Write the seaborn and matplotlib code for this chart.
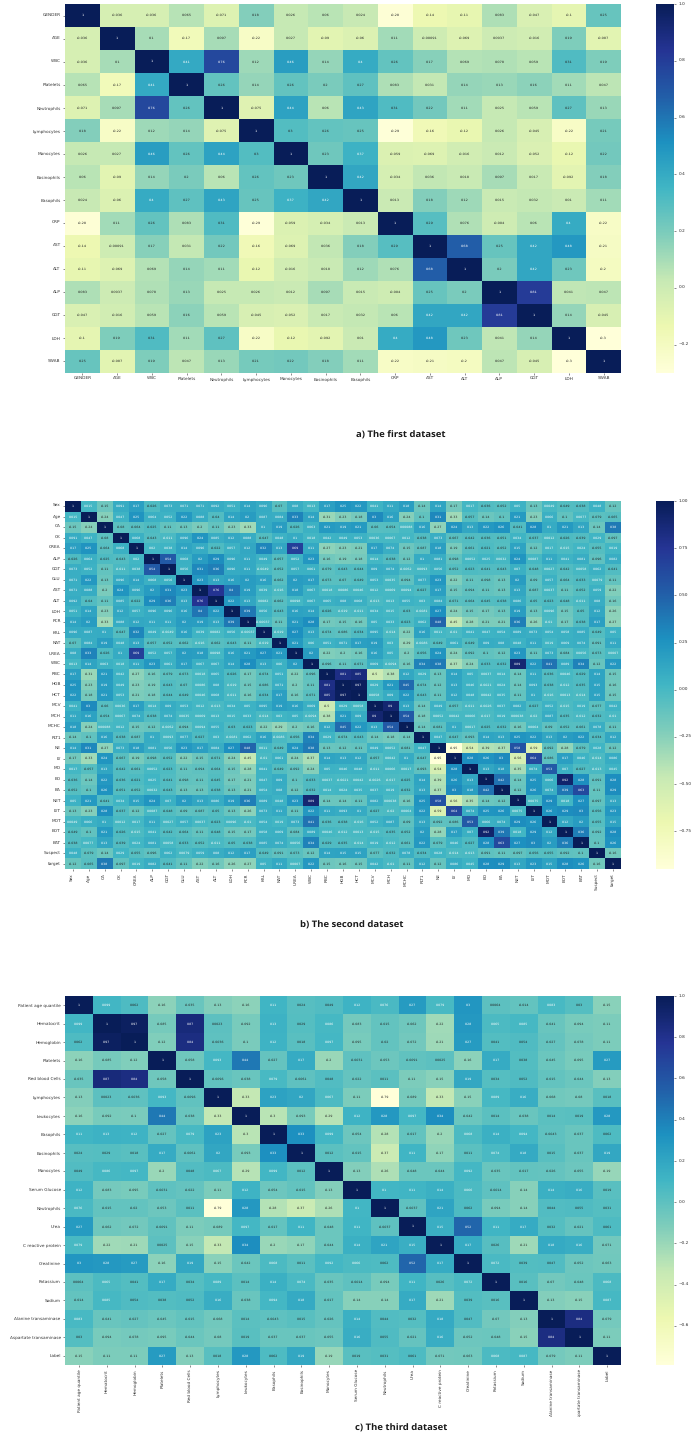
import numpy as np
import pandas as pd
import matplotlib
matplotlib.use("Agg")
import matplotlib.pyplot as plt
from matplotlib.patches import Rectangle
from matplotlib.ticker import FuncFormatter
import seaborn as sns

labels_a = ["GENDER","AGE","WBC","Platelets","Neutrophils","Lymphocytes","Monocytes","Eosinophils","Basophils","CRP","AST","ALT","ALP","GGT","LDH","SWAB"]
upper_a = [
[1,-0.036,-0.036,0.065,-0.071,0.18,0.026,0.06,0.024,-0.28,-0.14,-0.11,0.083,-0.047,-0.1,0.25],
[1,0.1,-0.17,0.097,-0.22,0.027,-0.09,-0.06,0.11,-0.00091,-0.069,0.0037,-0.016,0.19,-0.087],
[1,0.41,0.76,0.12,0.46,0.14,0.4,0.26,0.17,0.069,0.078,0.059,0.31,0.19],
[1,0.26,0.14,0.26,0.2,0.27,0.083,0.031,0.14,0.13,0.16,0.11,0.047],
[1,-0.075,0.44,0.06,0.43,0.31,0.22,0.11,0.025,0.059,0.27,0.13],
[1,0.3,0.26,0.25,-0.29,-0.16,-0.12,0.026,-0.045,-0.22,0.21],
[1,0.23,0.37,-0.059,-0.069,-0.016,0.012,-0.052,-0.12,0.22],
[1,0.42,-0.034,0.036,0.018,0.097,0.017,-0.092,0.18],
[1,0.013,0.18,0.12,0.015,0.032,0.01,0.11],
[1,0.29,0.076,-0.004,0.06,0.4,-0.22],
[1,0.68,0.25,0.42,0.48,-0.21],
[1,0.2,0.42,0.23,-0.2],
[1,0.81,0.041,0.047],
[1,0.14,-0.045],
[1,-0.3],
[1],
]

labels_b = ["Sex","Age","CA","CK","CREA","ALP","GGT","GLU","AST","ALT","LDH","PCR","KAL","NAT","UREA","WBC","RBC","HGB","HCT","MCV","MCH","MCHC","PLT1","NE","LY","MO","EO","BA","NET","LYT","MOT","EOT","BAT","Suspect","target"]
upper_b = [
[1,0.015,-0.15,0.091,0.17,-0.026,0.073,0.071,0.071,0.092,0.051,0.14,0.096,-0.07,0.08,0.013,0.17,0.25,0.22,0.041,0.11,0.18,-0.14,0.14,-0.17,0.017,-0.036,-0.052,0.05,-0.13,0.0049,-0.049,-0.038,0.048,-0.12],
[1,-0.24,0.047,0.25,0.064,0.052,0.22,0.088,-0.04,0.14,0.2,0.087,0.084,0.33,0.14,-0.31,-0.23,-0.18,0.3,0.16,-0.24,-0.1,0.31,-0.33,-0.057,-0.14,-0.1,0.21,-0.23,0.066,-0.1,0.0077,-0.079,-0.065],
[1,-0.08,-0.064,-0.025,-0.11,-0.13,-0.2,-0.11,-0.23,-0.33,0.1,0.19,-0.026,0.063,0.21,0.19,0.21,-0.06,-0.054,0.00088,0.16,-0.27,0.24,0.13,0.22,0.26,-0.041,0.28,0.1,0.21,0.13,-0.14,0.38],
[1,0.068,-0.043,-0.011,0.096,0.24,0.085,0.12,0.088,-0.047,0.048,0.1,0.018,0.042,0.049,0.053,0.0036,0.0067,0.012,-0.038,0.073,-0.067,-0.042,-0.036,-0.051,0.034,-0.037,0.0012,-0.026,-0.039,0.029,-0.097],
[1,0.02,0.038,0.14,0.096,-0.022,0.057,0.12,0.32,0.13,0.69,0.11,-0.27,-0.23,-0.21,0.17,0.074,-0.15,-0.087,0.18,-0.19,-0.061,-0.021,-0.052,0.15,-0.12,0.017,-0.015,0.024,-0.055,0.019],
[1,0.54,0.068,0.2,0.29,0.096,0.11,0.049,-0.057,0.052,0.23,-0.16,-0.19,-0.18,0.014,-0.038,-0.12,0.1,0.081,-0.098,0.0052,0.025,0.0032,0.24,0.0087,0.11,0.041,0.081,-0.096,0.082],
[1,0.056,0.31,0.36,0.096,0.11,-0.0049,-0.052,0.057,0.061,-0.079,-0.043,-0.044,0.09,0.074,-0.0062,0.0093,0.056,-0.052,-0.023,-0.041,-0.043,0.07,-0.048,0.0027,-0.042,0.0058,0.062,-0.041],
[1,0.23,0.13,0.16,0.2,0.16,-0.062,0.2,0.17,-0.073,-0.07,-0.049,0.053,0.0035,-0.094,0.077,0.23,-0.22,-0.11,-0.098,-0.13,0.2,-0.09,0.057,-0.064,-0.033,0.0079,-0.11],
[1,0.76,0.4,0.19,0.039,-0.016,0.18,0.067,0.0018,0.0086,0.0046,0.012,0.0069,0.0094,-0.027,0.17,-0.15,-0.094,-0.11,-0.13,0.13,-0.087,0.0037,-0.11,-0.052,0.059,-0.22],
[1,0.22,0.13,0.0082,-0.062,0.0098,0.067,0.065,0.08,0.068,-0.013,0.013,0.055,0.03,0.084,-0.071,-0.064,-0.045,-0.038,0.086,-0.05,-0.023,-0.048,-0.011,0.08,-0.16],
[1,0.39,0.056,-0.043,0.16,0.14,-0.026,-0.019,-0.011,0.034,0.015,-0.03,-0.0081,0.27,-0.24,-0.15,-0.17,-0.13,0.19,-0.13,0.0096,-0.15,-0.05,0.12,-0.26],
[1,-0.00037,-0.11,0.21,0.28,-0.17,-0.15,-0.16,0.05,0.033,-0.023,0.062,0.48,-0.45,-0.28,-0.21,-0.21,0.36,-0.26,-0.01,-0.17,-0.038,0.17,-0.27],
[1,-0.019,0.27,0.13,-0.074,-0.086,-0.034,0.095,-0.014,-0.22,0.16,0.011,-0.01,0.041,0.047,0.054,0.089,0.073,0.054,0.058,0.085,-0.049,0.05],
[1,0.21,0.06,0.051,0.071,0.17,0.19,0.03,-0.29,-0.0086,-0.049,0.061,-0.049,0.09,0.08,0.048,0.11,0.019,0.069,0.074,-0.091,0.11],
[1,0.2,-0.22,-0.2,-0.16,0.16,0.05,-0.2,-0.056,0.24,-0.24,-0.092,-0.1,-0.12,0.23,-0.11,0.073,-0.084,0.0056,-0.073,0.0007],
[1,-0.096,-0.11,-0.071,0.069,-0.0094,-0.16,0.34,0.38,-0.37,-0.24,-0.033,-0.032,0.89,0.22,0.41,0.089,0.34,-0.12,0.22],
[1,0.81,0.85,-0.5,-0.38,0.12,0.029,-0.13,0.14,0.05,0.0037,0.014,-0.14,0.11,-0.036,0.0046,-0.029,0.14,-0.15],
[1,0.97,0.029,0.21,0.45,-0.074,-0.12,0.13,0.046,-0.0021,0.024,-0.14,0.093,-0.038,-0.012,-0.035,0.15,-0.16],
[1,0.0058,0.09,0.22,-0.043,-0.11,0.12,0.048,0.0042,0.035,-0.11,0.1,-0.016,0.0013,-0.014,0.15,-0.15],
[1,0.9,0.13,-0.14,0.049,-0.057,-0.011,-0.0026,0.037,0.082,-0.027,0.052,-0.015,0.019,-0.077,0.042],
[1,0.54,-0.18,0.0052,0.0042,0.0066,-0.017,0.019,0.00038,-0.02,0.087,-0.035,-0.012,-0.032,-0.01],
[1,-0.14,-0.081,0.1,0.0017,-0.025,-0.032,-0.16,0.0064,-0.09,-0.052,-0.061,0.078,-0.11],
[1,0.047,-0.047,-0.093,0.14,0.13,0.25,0.22,0.13,0.2,0.22,-0.034,0.12],
[1,-0.95,-0.54,-0.39,-0.37,0.58,-0.59,-0.092,-0.28,-0.079,0.028,-0.12],
[1,0.28,0.26,0.3,-0.56,0.64,-0.086,0.17,0.046,-0.014,0.086],
[1,0.13,0.18,-0.35,0.074,0.53,0.07,-0.027,-0.013,0.045],
[1,0.42,-0.14,0.25,0.066,0.92,0.28,-0.091,0.28],
[1,-0.12,0.26,0.074,0.39,0.63,-0.11,0.29],
[1,0.0075,0.29,0.018,0.27,-0.097,0.13],
[1,0.26,0.29,0.3,-0.056,0.23],
[1,0.12,0.2,-0.055,0.15],
[1,0.36,-0.092,0.28],
[1,-0.1,0.26],
[1,-0.16],
[1],
]

labels_c = ["Patient age quantile","Hematocrit","Hemoglobin","Platelets","Red blood Cells","Lymphocytes","Leukocytes","Basophils","Eosinophils","Monocytes","Serum Glucose","Neutrophils","Urea","C reactive protein","Creatinine","Potassium","Sodium","Alanine transaminase","Aspartate transaminase","Label"]
upper_c = [
[1,0.099,0.062,-0.16,-0.035,-0.13,-0.16,0.11,0.024,0.049,0.12,0.076,0.27,0.079,0.3,0.0064,-0.014,0.083,0.03,-0.15],
[1,0.97,-0.085,0.87,0.0023,-0.092,0.13,0.029,0.086,-0.083,-0.015,-0.062,-0.22,0.28,0.065,0.085,-0.041,-0.094,-0.11],
[1,-0.12,0.84,-0.0036,-0.1,0.12,0.018,0.097,-0.095,-0.02,-0.072,-0.21,0.27,0.041,0.054,-0.027,-0.078,-0.11],
[1,-0.058,0.093,0.44,-0.027,0.17,-0.2,-0.0031,-0.053,-0.0091,0.0025,-0.16,0.17,0.038,-0.045,-0.095,0.27],
[1,-0.0096,-0.038,0.079,-0.0061,0.048,-0.022,0.011,-0.11,-0.15,0.19,0.034,0.052,-0.015,-0.044,-0.13],
[1,-0.33,0.23,0.2,0.067,-0.11,-0.79,-0.089,-0.33,-0.15,0.089,0.16,-0.068,-0.08,0.018],
[1,-0.3,-0.093,-0.29,0.12,0.28,0.097,0.34,-0.042,0.014,-0.038,0.014,0.019,0.28],
[1,0.33,0.099,-0.054,-0.28,-0.017,-0.2,0.068,0.14,0.094,-0.0043,-0.037,0.062],
[1,0.012,-0.015,-0.37,0.11,-0.17,0.011,0.074,0.18,0.015,-0.037,0.19],
[1,-0.13,-0.26,-0.048,-0.044,0.092,-0.035,-0.017,-0.026,-0.055,-0.19],
[1,0.1,0.11,0.14,0.066,-0.0014,-0.14,0.14,0.16,0.019],
[1,-0.0037,0.21,0.062,-0.094,-0.14,0.044,0.055,0.031],
[1,0.15,0.52,0.11,0.17,0.032,-0.021,0.061],
[1,0.17,0.026,-0.21,0.18,0.16,-0.071],
[1,0.072,0.039,0.047,-0.052,-0.063],
[1,0.016,-0.07,-0.048,0.068],
[1,-0.13,-0.15,0.087],
[1,0.84,-0.079],
[1,-0.11],
[1],
]

captions = ["a) The first dataset", "b) The second dataset", "c) The third dataset"]

W, H = 698, 1441


def corr_frame(upper, labels):
    n = len(labels)
    m = np.zeros((n, n))
    for i, row in enumerate(upper):
        if len(row) != n - i:
            raise ValueError(f"row {i} ({labels[i]}) has {len(row)} values, expected {n-i}")
        m[i, i:] = row
        m[i:, i] = row
    return pd.DataFrame(m, index=labels, columns=labels)


def box(x0, y0, x1, y1):
    return [x0 / W, 1 - y1 / H, (x1 - x0) / W, (y1 - y0) / H]


def tick_formatter(decimals):
    return FuncFormatter(lambda v, _: f"{v:.{decimals}f}".replace("-", "\u2212"))


sns.set_theme(style="white")
plt.rcParams["font.family"] = ["DejaVu Sans"]
plt.rcParams["text.hinting"] = "no_hinting"
fig = plt.figure(figsize=(W / 100, H / 100), dpi=100, facecolor="white")

panels = [
    (upper_a, labels_a, 4, 373, 2.5, 3.1, 0, [-0.2, 0, 0.2, 0.4, 0.6, 0.8, 1.0], 1),
    (upper_b, labels_b, 501, 869, 2.35, 3.1, 90, [-0.75, -0.5, -0.25, 0, 0.25, 0.5, 0.75, 1.0], 2),
    (upper_c, labels_c, 996, 1365, 2.35, 3.1, 90, [-0.6, -0.4, -0.2, 0, 0.2, 0.4, 0.6, 0.8, 1.0], 1),
]

for upper, labels, top, bottom, annot_fs, tick_fs, xrot, cticks, decimals in panels:
    ax = fig.add_axes(box(65, top, 621, bottom))
    cax = fig.add_axes(box(656, top, 674, bottom))
    df = corr_frame(upper, labels)
    sns.heatmap(df, ax=ax, cbar_ax=cax, cmap="YlGnBu", annot=True, fmt=".2g",
                annot_kws={"size": annot_fs},
                xticklabels=True, yticklabels=True)
    ax.tick_params(axis="both", length=1.6, width=0.4, labelsize=tick_fs, pad=1.5,
                   bottom=True, left=True, color="#333333", labelcolor="#333333")
    ax.set_xticklabels(labels, rotation=xrot, fontsize=tick_fs)
    ax.set_yticklabels(labels, rotation=0, fontsize=tick_fs)
    cax.set_yticks(cticks)
    cax.yaxis.set_major_formatter(tick_formatter(decimals))
    cax.tick_params(axis="y", length=1.6, width=0.4, labelsize=tick_fs, pad=1.5,
                    right=True, color="#333333", labelcolor="#333333")

# the reference crops the longest rotated labels of the last panel
fig.add_artist(Rectangle((0, 0), 1, 1 - 1417 / H, transform=fig.transFigure,
                         facecolor="white", edgecolor="none", zorder=5))

for cap, xc, yc in zip(captions, [401, 352, 401], [435, 925, 1428]):
    fig.text(xc / W, 1 - yc / H, cap, ha="center", va="center", fontsize=6.8,
             fontweight="bold", family="Open Sans", color="#1a1a1a", zorder=6)

fig.savefig("out.png", dpi=100, facecolor="white")
